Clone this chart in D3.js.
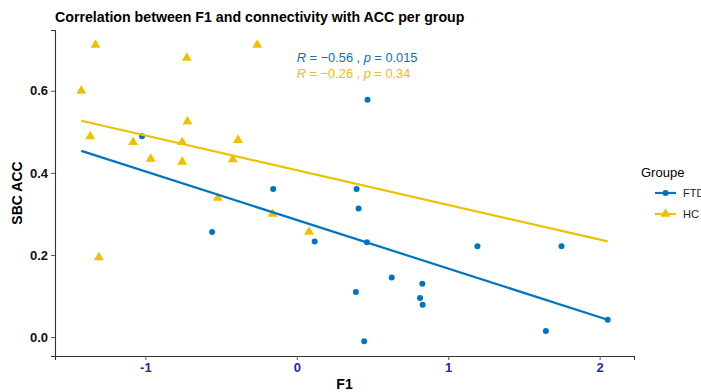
<!DOCTYPE html>
<html>
<head>
<meta charset="utf-8">
<script src="https://cdn.jsdelivr.net/npm/d3@7"></script>
<style>
  body { margin: 0; background: #fff; }
  svg { font-family: "Liberation Sans", Arial, sans-serif; }
</style>
</head>
<body>
<svg id="chart" width="701" height="392"></svg>
<script>
// data
const groups = ['FTD', 'HC'];
const ftdX = [-1.022, -0.156, -0.559, 0.118, 0.467, 0.395, 0.408, 0.463, 1.193, 1.748, 0.627, 0.829, 0.390, 0.814, 0.831, 1.645, 2.053, 0.445];
const ftdY = [0.489, 0.361, 0.256, 0.233, 0.578, 0.361, 0.313, 0.231, 0.221, 0.221, 0.145, 0.130, 0.110, 0.095, 0.079, 0.015, 0.042, -0.010];
const hcX = [-1.329, -0.261, -0.726, -1.423, -0.722, -1.364, -1.081, -0.757, -0.388, -0.965, -0.757, -0.423, -0.522, -0.160, 0.081, -1.307];
const hcY = [0.712, 0.712, 0.680, 0.600, 0.525, 0.489, 0.475, 0.475, 0.480, 0.434, 0.427, 0.433, 0.339, 0.300, 0.256, 0.194];
const corrLabels = [
  { r: '\u22120.56', p: '0.015' },
  { r: '\u22120.26', p: '0.34' }
];
const xTicks = [-1, 0, 1, 2];
const yTicks = [0, 0.2, 0.4, 0.6];
const colors = ['#0073C2', '#EFC000'];

const series = [
  { name: groups[0], x: ftdX, y: ftdY },
  { name: groups[1], x: hcX, y: hcY }
];

const svg = d3.select('#chart');
const margin = { top: 30, right: 67, bottom: 36, left: 55 };
const width = 701 - margin.left - margin.right;
const height = 392 - margin.top - margin.bottom;

// ggplot style 5% expansion
const allX = ftdX.concat(hcX);
const allY = ftdY.concat(hcY);
const [x0, x1] = d3.extent(allX);
const [y0, y1] = d3.extent(allY);
const xPad = (x1 - x0) * 0.05, yPad = (y1 - y0) * 0.05;

const x = d3.scaleLinear().domain([x0 - xPad, x1 + xPad]).range([0, width]);
const y = d3.scaleLinear().domain([y0 - yPad, y1 + yPad]).range([height, 0]);

const g = svg.append('g').attr('transform', `translate(${margin.left},${margin.top})`);

// title
svg.append('text')
  .attr('x', margin.left)
  .attr('y', 22)
  .attr('font-size', 14.2)
  .attr('font-weight', 'bold')
  .attr('fill', '#000')
  .text('Correlation between F1 and connectivity with ACC per group');

// axes
const xAxis = g.append('g')
  .attr('transform', `translate(0,${height})`)
  .call(d3.axisBottom(x).tickValues(xTicks).tickFormat(d => String(d)).tickSizeOuter(0).tickSize(4).tickPadding(3));
xAxis.selectAll('text')
  .attr('font-size', 13).attr('font-weight', 'bold').attr('fill', '#1D2BA6');

const yAxis = g.append('g')
  .call(d3.axisLeft(y).tickValues(yTicks).tickFormat(d3.format('.1f')).tickSizeOuter(0).tickSize(4).tickPadding(3));
yAxis.selectAll('text')
  .attr('font-size', 13).attr('font-weight', 'bold').attr('fill', '#111');

[xAxis, yAxis].forEach(a => {
  a.select('.domain').attr('stroke', '#333').attr('stroke-width', 1.1);
  a.selectAll('.tick line').attr('stroke', '#555');
  a.attr('font-family', null);
});

// axis titles
svg.append('text')
  .attr('x', margin.left + width / 2)
  .attr('y', 389)
  .attr('text-anchor', 'middle')
  .attr('font-size', 14)
  .attr('font-weight', 'bold')
  .text('F1');

svg.append('text')
  .attr('transform', `translate(22,${margin.top + height / 2}) rotate(-90)`)
  .attr('text-anchor', 'middle')
  .attr('font-size', 14)
  .attr('font-weight', 'bold')
  .text('SBC ACC');

// simple least squares fit per group
function fit(xs, ys) {
  const mx = d3.mean(xs), my = d3.mean(ys);
  let sxy = 0, sxx = 0;
  xs.forEach((v, i) => { sxy += (v - mx) * (ys[i] - my); sxx += (v - mx) * (v - mx); });
  const b = sxy / sxx;
  return { a: my - b * mx, b };
}

const triangle = d3.symbol().type(d3.symbolTriangle).size(42);

series.forEach((s, i) => {
  const pts = s.x.map((v, j) => [v, s.y[j]]);
  const grp = g.append('g');
  if (i === 0) {
    grp.selectAll('circle').data(pts).enter().append('circle')
      .attr('cx', d => x(d[0])).attr('cy', d => y(d[1]))
      .attr('r', 3).attr('fill', colors[i]);
  } else {
    grp.selectAll('path').data(pts).enter().append('path')
      .attr('d', triangle)
      .attr('transform', d => `translate(${x(d[0])},${y(d[1])})`)
      .attr('fill', colors[i]);
  }
});

// regression lines over the full x range
series.forEach((s, i) => {
  const f = fit(s.x, s.y);
  g.append('line')
    .attr('x1', x(x0)).attr('y1', y(f.a + f.b * x0))
    .attr('x2', x(x1)).attr('y2', y(f.a + f.b * x1))
    .attr('stroke', colors[i])
    .attr('stroke-width', 2.2);
});

// correlation labels
corrLabels.forEach((c, i) => {
  const t = g.append('text')
    .attr('x', x(0))
    .attr('y', 32 + i * 16)
    .attr('font-size', 12.8)
    .attr('fill', colors[i]);
  t.append('tspan').attr('font-style', 'italic').text('R');
  t.append('tspan').text(` = ${c.r} , `);
  t.append('tspan').attr('font-style', 'italic').text('p');
  t.append('tspan').text(` = ${c.p}`);
});

// legend
const legend = svg.append('g').attr('transform', 'translate(641,0)');
legend.append('text')
  .attr('x', 0).attr('y', 177)
  .attr('font-size', 13)
  .text('Groupe');

groups.forEach((name, i) => {
  const cy = 193 + i * 21;
  const item = legend.append('g');
  item.append('line')
    .attr('x1', 14).attr('x2', 35)
    .attr('y1', cy).attr('y2', cy)
    .attr('stroke', colors[i]).attr('stroke-width', 2.2);
  if (i === 0) {
    item.append('circle').attr('cx', 24.5).attr('cy', cy).attr('r', 3).attr('fill', colors[i]);
  } else {
    item.append('path').attr('d', triangle).attr('transform', `translate(24.5,${cy})`).attr('fill', colors[i]);
  }
  item.append('text')
    .attr('x', 42).attr('y', cy + 4)
    .attr('font-size', 11)
    .attr('fill', '#222')
    .text(name);
});
</script>
</body>
</html>
